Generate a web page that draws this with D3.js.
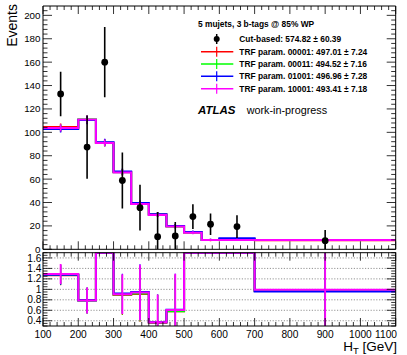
<!DOCTYPE html>
<html><head><meta charset="utf-8">
<script src="https://cdn.jsdelivr.net/npm/d3@7"></script>
<style>body{margin:0;background:#fff}svg{display:block}text{font-family:"Liberation Sans",Arial,Helvetica,sans-serif}</style>
</head><body>
<script>
// ---------- data ----------
const binEdges = [100,200,250,300,350,400,450,500,550,600,700,1100];
const seriesNames = ["TRF param. 00001: 497.01 \u00b1 7.24","TRF param. 00011: 494.52 \u00b1 7.16","TRF param. 01001: 496.96 \u00b1 7.28","TRF param. 10001: 493.41 \u00b1 7.18"];
const seriesColors = ["#ff0000","#00ff00","#0000ff","#ff00ff"];
const trfRed   = [104.5,110.6,91.0,66.0,39.0,29.8,19.6,14.4,7.9,8.6,7.8];
const trfGreen = [103.6,111.2,90.9,65.8,38.9,29.5,19.5,14.3,8.0,8.8,7.9];
const trfBlue  = [102.8,110.5,91.5,66.5,39.5,30.0,20.0,14.8,8.0,9.4,7.9];
const trfPink  = [103.8,111.0,90.8,65.6,38.8,29.4,19.4,14.2,8.0,8.0,7.9];
const trfErr   = [3.0,3.5,3.0,2.6,2.2,1.9,1.6,1.3,1.0,1.0,0.8];
const dataX    = [150,225,275,325,375,425,475,525,575,650,900];
const dataY    = [132.8,87.4,160,58.8,35.6,10.8,11.4,28,21.4,19.4,7.4];
const dataErr  = [19,27,30,24,19.5,21,12,10.6,9.2,9.7,9];
const ratioRed   = [1.27,0.79,1.76,0.89,0.91,0.36,0.58,1.94,2.7,2.25,0.97];
const ratioGreen = [1.28,0.78,1.76,0.90,0.92,0.37,0.58,1.96,2.7,2.2,0.98];
const ratioBlue  = [1.28,0.79,1.75,0.92,0.95,0.37,0.61,1.9,2.7,2.1,0.96];
const ratioPink  = [1.292,0.786,1.76,0.908,0.94,0.37,0.607,1.97,2.7,2.43,0.99];
const ratioErr   = [0.19,0.245,0.33,0.38,0.53,0.53,0.69,0.75,1.2,1.2,1.2];
const mainYTicks = [0,20,40,60,80,100,120,140,160,180,200];
const ratioYTicks = [0.4,0.6,0.8,1,1.2,1.4,1.6];
const xTicks = [100,200,300,400,500,600,700,800,900,1000,1100];
const legendTitle = "5 mujets, 3 b-tags @ 85% WP";
const dataLabel = "Cut-based: 574.82 \u00b1 60.39";

const trfSeries = [trfRed,trfGreen,trfBlue,trfPink];
const ratioSeries = [ratioRed,ratioGreen,ratioBlue,ratioPink];

// ---------- layout ----------
const W=407,H=355;
const svg=d3.select("body").append("svg").attr("width",W).attr("height",H);
const x=d3.scaleLinear().domain([100,1100]).range([43,395.7]);
const y=d3.scaleLinear().domain([0,208]).range([249.3,6]);
const yr=d3.scaleLinear().domain([0.3,1.7]).range([326,252.7]).clamp(true);

svg.append("defs").append("clipPath").attr("id","cm").append("rect")
  .attr("x",x(100)).attr("y",y(208)).attr("width",x(1100)-x(100)).attr("height",y(0)-y(208));
svg.select("defs").append("clipPath").attr("id","cr").append("rect")
  .attr("x",x(100)).attr("y",yr(1.7)).attr("width",x(1100)-x(100)).attr("height",yr(0.3)-yr(1.7));

function stepPath(vals, ys){
  let p=[];
  vals.forEach((v,i)=>{p.push([x(binEdges[i]),ys(v)]);p.push([x(binEdges[i+1]),ys(v)]);});
  return d3.line()(p);
}
const centers = binEdges.slice(0,-1).map((e,i)=>(e+binEdges[i+1])/2);

// ---------- main pad ----------
const gm=svg.append("g").attr("clip-path","url(#cm)");
trfSeries.forEach((s,k)=>{
  gm.append("path").attr("d",stepPath(s,y)).attr("fill","none").attr("stroke",seriesColors[k]).attr("stroke-width",2);
  gm.selectAll(null).data(s).enter().append("line")
    .attr("x1",(d,i)=>x(centers[i])).attr("x2",(d,i)=>x(centers[i]))
    .attr("y1",(d,i)=>y(d-trfErr[i])).attr("y2",(d,i)=>y(d+trfErr[i]))
    .attr("stroke",seriesColors[k]).attr("stroke-width",1.5);
});
gm.selectAll(null).data(dataY).enter().append("line")
  .attr("x1",(d,i)=>x(dataX[i])).attr("x2",(d,i)=>x(dataX[i]))
  .attr("y1",(d,i)=>y(Math.max(0,d-dataErr[i]))).attr("y2",(d,i)=>y(d+dataErr[i]))
  .attr("stroke","#000").attr("stroke-width",1.6);
gm.selectAll(null).data(dataY).enter().append("circle")
  .attr("cx",(d,i)=>x(dataX[i])).attr("cy",d=>y(d)).attr("r",3.4).attr("fill","#000");

// main frame and ticks
function ticksX(g, yPos, dir){
  d3.range(100,1101,20).forEach(v=>{const m=(v%100===0);
    g.append("line").attr("x1",x(v)).attr("x2",x(v)).attr("y1",yPos).attr("y2",yPos+dir*(m?8:4)).attr("stroke","#000").attr("stroke-width",0.8);});
}
const fr=svg.append("g");
fr.append("line").attr("x1",x(100)).attr("x2",x(1100)).attr("y1",y(0)).attr("y2",y(0)).attr("stroke","#000");
fr.append("line").attr("x1",x(100)).attr("x2",x(1100)).attr("y1",y(208)).attr("y2",y(208)).attr("stroke","#000");
fr.append("line").attr("x1",x(100)).attr("x2",x(100)).attr("y1",y(0)).attr("y2",y(208)).attr("stroke","#000");
fr.append("line").attr("x1",x(1100)).attr("x2",x(1100)).attr("y1",y(0)).attr("y2",y(208)).attr("stroke","#000");
ticksX(fr,y(0),-1);ticksX(fr,y(208),1);
d3.range(0,208,4).forEach(v=>{const m=(v%20===0);
  fr.append("line").attr("x1",x(100)).attr("x2",x(100)+(m?9:4.5)).attr("y1",y(v)).attr("y2",y(v)).attr("stroke","#000").attr("stroke-width",0.8);
  fr.append("line").attr("x1",x(1100)).attr("x2",x(1100)-(m?9:4.5)).attr("y1",y(v)).attr("y2",y(v)).attr("stroke","#000").attr("stroke-width",0.8);
});
fr.selectAll(null).data(mainYTicks).enter().append("text")
  .attr("x",40.5).attr("y",d=>y(d)+3.4).attr("text-anchor","end").attr("font-size",9.8).text(d=>d);
svg.append("text").attr("transform","translate(17,4) rotate(-90)").attr("text-anchor","end")
  .attr("font-size",14).text("Events");

// ---------- legend ----------
const lg=svg.append("g");
const lfs=8.4;
lg.append("text").attr("x",198).attr("y",27).attr("font-size",lfs).attr("font-weight","bold").text(legendTitle);
const rowY=[39,51.7,64,76.3,88.7];
lg.append("line").attr("x1",216.7).attr("x2",216.7).attr("y1",rowY[0]-5).attr("y2",rowY[0]+5).attr("stroke","#000").attr("stroke-width",1.5);
lg.append("circle").attr("cx",216.7).attr("cy",rowY[0]).attr("r",3).attr("fill","#000");
lg.append("text").attr("x",239.3).attr("y",rowY[0]+3).attr("font-size",lfs).attr("font-weight","bold").text(dataLabel);
seriesNames.forEach((n,k)=>{
  const yy=rowY[k+1];
  lg.append("line").attr("x1",201).attr("x2",233.3).attr("y1",yy).attr("y2",yy).attr("stroke",seriesColors[k]).attr("stroke-width",1.6);
  lg.append("line").attr("x1",216.7).attr("x2",216.7).attr("y1",yy-5).attr("y2",yy+5).attr("stroke",seriesColors[k]).attr("stroke-width",1.2);
  lg.append("text").attr("x",239.3).attr("y",yy+3).attr("font-size",lfs).attr("font-weight","bold").text(n);
});
lg.append("text").attr("x",198).attr("y",114).attr("font-size",11.5).attr("font-weight","bold").attr("font-style","italic").text("ATLAS");
lg.append("text").attr("x",246.7).attr("y",114).attr("font-size",10.8).text("work-in-progress");

// ---------- ratio pad ----------
const gr=svg.append("g");
ratioYTicks.forEach(v=>{
  gr.append("line").attr("x1",x(100)).attr("x2",x(1100)).attr("y1",yr(v)).attr("y2",yr(v))
    .attr("stroke","#777").attr("stroke-width",0.8).attr("stroke-dasharray","1.2,1.6");
});
const grc=svg.append("g").attr("clip-path","url(#cr)");
ratioSeries.forEach((s,k)=>{
  grc.append("path").attr("d",stepPath(s,yr)).attr("fill","none").attr("stroke",seriesColors[k]).attr("stroke-width",2);
  // error bars are only drawn for points inside the visible range
  const inRange = s.map((d,i)=>({d,i})).filter(o=>o.d>=0.3 && o.d<=1.7);
  grc.selectAll(null).data(inRange).enter().append("line")
    .attr("x1",o=>x(centers[o.i])).attr("x2",o=>x(centers[o.i]))
    .attr("y1",o=>yr(o.d-ratioErr[o.i])).attr("y2",o=>yr(o.d+ratioErr[o.i]))
    .attr("stroke",seriesColors[k]).attr("stroke-width",k===3?1.8:1.2);
});
const rf=svg.append("g");
rf.append("rect").attr("x",x(100)).attr("y",yr(1.7)).attr("width",x(1100)-x(100)).attr("height",yr(0.3)-yr(1.7))
  .attr("fill","none").attr("stroke","#000").attr("stroke-width",1);
ticksX(rf,yr(0.3),-1);ticksX(rf,yr(1.7),1);
d3.range(0.3,1.701,0.05).forEach(v=>{const m=Math.abs(v*5-Math.round(v*5))<1e-6;
  rf.append("line").attr("x1",x(100)).attr("x2",x(100)+(m?9:4.5)).attr("y1",yr(v)).attr("y2",yr(v)).attr("stroke","#000").attr("stroke-width",0.8);
  rf.append("line").attr("x1",x(1100)).attr("x2",x(1100)-(m?9:4.5)).attr("y1",yr(v)).attr("y2",yr(v)).attr("stroke","#000").attr("stroke-width",0.8);
});
rf.selectAll(null).data(ratioYTicks).enter().append("text")
  .attr("x",41.5).attr("y",d=>yr(d)+3.6).attr("text-anchor","end").attr("font-size",10.2).text(d=>d);
rf.selectAll(null).data(xTicks).enter().append("text")
  .attr("x",d=>d===1100?397:x(d)).attr("y",337.5).attr("text-anchor",d=>d===1100?"end":"middle")
  .attr("font-size",10.2).text(d=>d);
const xl=svg.append("text").attr("x",397).attr("y",350.5).attr("text-anchor","end").attr("font-size",13.5);
xl.append("tspan").text("H");
xl.append("tspan").attr("font-size",9.5).attr("dy",3).text("T");
xl.append("tspan").attr("dy",-3).text(" [GeV]");
</script>
</body></html>
